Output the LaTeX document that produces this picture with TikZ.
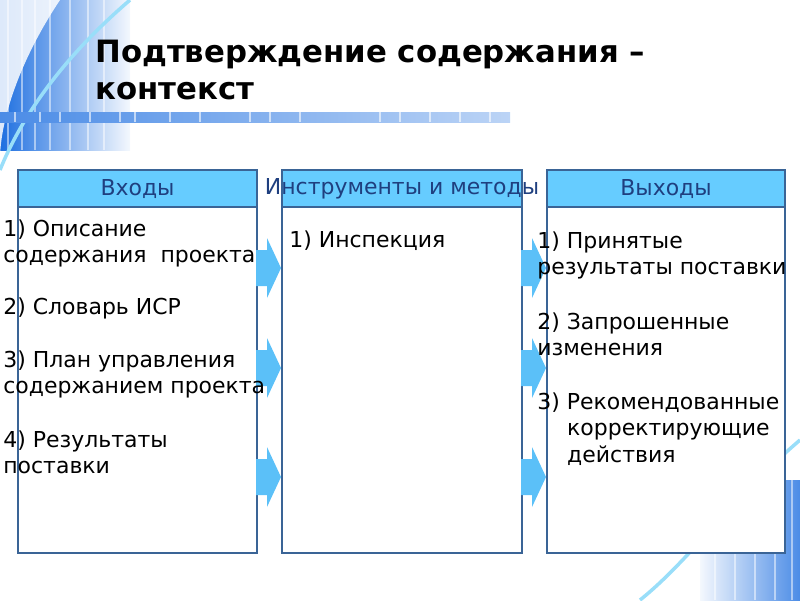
\documentclass[tikz,border=0pt]{standalone}
\usepackage{fontspec}
\setmainfont{DejaVu Sans}
\usetikzlibrary{positioning}
\definecolor{frame}{HTML}{3A6496}
\definecolor{headfill}{HTML}{66CCFF}
\definecolor{headtext}{HTML}{1F3F7F}
\definecolor{arrowfill}{HTML}{5BC0F8}
\definecolor{deco}{HTML}{1E6FE0}
\tikzset{
  colbody/.style={rectangle, draw=frame, line width=1.2pt, fill=white, anchor=north west},
  colhead/.style={rectangle, draw=frame, line width=1.2pt, fill=headfill, anchor=north west,
    text=headtext, font=\fontsize{12.5}{14}\selectfont},
  item/.style={anchor=north west, align=left, inner sep=0pt,
    font=\fontsize{12.5}{15.3}\selectfont},
}
\newcommand{\flowarrow}[2]{%
  \fill[arrowfill] (#1,#2-18) -- (#1+11,#2-18) -- (#1+11,#2-30) -- (#1+25,#2)
    -- (#1+11,#2+30) -- (#1+11,#2+18) -- (#1,#2+18) -- cycle;}
\begin{document}
\begin{tikzpicture}[x=0.02cm, y=-0.02cm]
  \useasboundingbox (0,0) rectangle (800,600);

  % corner decorations
  \shade[left color=deco, right color=deco!5] (0,0) rectangle (130,150);
  \foreach \x in {8,22,35,50,70,88,104} {
    \draw[white, opacity=0.5, line width=1.5pt] (\x,0) -- (\x,150);
  }
  \fill[white, opacity=0.85] (60,0) .. controls (20,60) and (0,120) .. (0,160) -- (0,0) -- cycle;
  \draw[cyan!40, line width=2pt] (130,0) .. controls (60,60) and (20,120) .. (0,170);
  \shade[right color=deco!80, left color=deco!5] (700,480) rectangle (800,600);
  \foreach \x in {715,735,755,775,792} {
    \draw[white, opacity=0.5, line width=1.5pt] (\x,480) -- (\x,600);
  }
  \draw[cyan!40, line width=2pt] (800,440) .. controls (730,500) and (690,560) .. (640,600);
  \shade[left color=deco!80, right color=deco!30] (0,112) rectangle (510,122);
  \foreach \x in {15,40,60,90,120,135,170,200,250,270,300,380,400,430,460,490} {
    \draw[white, opacity=0.6, line width=0.8pt] (\x,112) -- (\x,122);
  }

  % title
  \node(title)[anchor=north west, align=left, inner sep=0pt,
    font=\fontsize{17.5}{21}\bfseries\selectfont] at (95,40) {Подтверждение содержания –\\контекст};

  % columns
  \node(in-body)[colbody, minimum width=239*0.02cm, minimum height=383*0.02cm] at (17,169) {};
  \node(tm-body)[colbody, minimum width=240*0.02cm, minimum height=383*0.02cm] at (281,169) {};
  \node(out-body)[colbody, minimum width=238*0.02cm, minimum height=383*0.02cm] at (546,169) {};
  \node(in-head)[colhead, minimum width=239*0.02cm, minimum height=37*0.02cm] at (17,169) {Входы};
  \node(tm-head)[colhead, minimum width=240*0.02cm, minimum height=37*0.02cm] at (281,169) {};
  \node(out-head)[colhead, minimum width=238*0.02cm, minimum height=37*0.02cm] at (546,169) {Выходы};
  \node(tm-label)[text=headtext, font=\fontsize{12.5}{14}\selectfont] at (tm-head.center) {Инструменты и методы};

  % arrows
  \foreach \y in {268,368,477} {
    \flowarrow{256}{\y}
    \flowarrow{521}{\y}
  }

  % inputs
  \node(in-1)[item] at (3,219) {1) Описание\\содержания~ проекта};
  \node(in-2)[item] at (3,297) {2) Словарь ИСР};
  \node(in-3)[item] at (3,350) {3) План управления\\содержанием проекта};
  \node(in-4)[item] at (3,430) {4) Результаты\\поставки};

  % tools
  \node(tm-1)[item] at (289,230) {1) Инспекция};

  % outputs
  \node(out-1)[item] at (537,231) {1) Принятые\\результаты поставки};
  \node(out-2)[item] at (537,312) {2) Запрошенные\\изменения};
  \node(out-3)[item] at (537,392) {3) Рекомендованные\\\hspace*{17pt}корректирующие\\\hspace*{17pt}действия};
\end{tikzpicture}
\end{document}
